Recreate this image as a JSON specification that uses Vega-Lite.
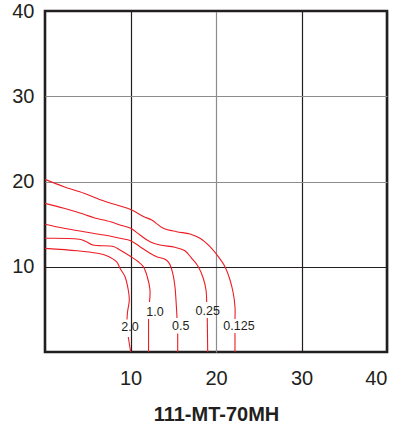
{
  "$schema": "https://vega.github.io/schema/vega-lite/v6.json",
  "width": 342,
  "height": 341,
  "autosize": "none",
  "padding": {"left": 45, "top": 11, "right": 17, "bottom": 79},
  "background": "white",
  "config": {
    "view": {"stroke": "#231f20", "strokeWidth": 2.6},
    "font": "Liberation Sans, Arial, sans-serif"
  },
  "datasets": {
    "lines": [
      {"level": "0.125", "seg": "0.125a", "i": 1, "x": 0, "y": 20.26},
      {"level": "0.125", "seg": "0.125a", "i": 2, "x": 2.22, "y": 19.39},
      {"level": "0.125", "seg": "0.125a", "i": 3, "x": 4.56, "y": 18.62},
      {"level": "0.125", "seg": "0.125a", "i": 4, "x": 6.9, "y": 17.71},
      {"level": "0.125", "seg": "0.125a", "i": 5, "x": 9.94, "y": 16.74},
      {"level": "0.125", "seg": "0.125a", "i": 6, "x": 11.58, "y": 15.87},
      {"level": "0.125", "seg": "0.125a", "i": 7, "x": 12.48, "y": 15.48},
      {"level": "0.125", "seg": "0.125a", "i": 8, "x": 13.84, "y": 14.51},
      {"level": "0.125", "seg": "0.125a", "i": 9, "x": 15.4, "y": 14.11},
      {"level": "0.125", "seg": "0.125a", "i": 10, "x": 16.96, "y": 13.84},
      {"level": "0.125", "seg": "0.125a", "i": 11, "x": 18.13, "y": 13.34},
      {"level": "0.125", "seg": "0.125a", "i": 12, "x": 19.3, "y": 12.35},
      {"level": "0.125", "seg": "0.125a", "i": 13, "x": 20.27, "y": 11.18},
      {"level": "0.125", "seg": "0.125a", "i": 14, "x": 21.05, "y": 10.01},
      {"level": "0.125", "seg": "0.125a", "i": 15, "x": 21.64, "y": 8.45},
      {"level": "0.125", "seg": "0.125a", "i": 16, "x": 22.02, "y": 6.89},
      {"level": "0.125", "seg": "0.125a", "i": 17, "x": 22.22, "y": 5.31},
      {"level": "0.125", "seg": "0.125a", "i": 18, "x": 22.22, "y": 3.87},
      {"level": "0.125", "seg": "0.125b", "i": 19, "x": 22.22, "y": 2.23},
      {"level": "0.125", "seg": "0.125b", "i": 20, "x": 22.22, "y": 0},

      {"level": "0.25", "seg": "0.25a", "i": 1, "x": 0, "y": 17.44},
      {"level": "0.25", "seg": "0.25a", "i": 2, "x": 2.22, "y": 16.86},
      {"level": "0.25", "seg": "0.25a", "i": 3, "x": 4.56, "y": 16.15},
      {"level": "0.25", "seg": "0.25a", "i": 4, "x": 5.73, "y": 15.75},
      {"level": "0.25", "seg": "0.25a", "i": 5, "x": 7.68, "y": 15.28},
      {"level": "0.25", "seg": "0.25a", "i": 6, "x": 8.77, "y": 14.9},
      {"level": "0.25", "seg": "0.25a", "i": 7, "x": 10.02, "y": 14.51},
      {"level": "0.25", "seg": "0.25a", "i": 8, "x": 11.11, "y": 13.72},
      {"level": "0.25", "seg": "0.25a", "i": 9, "x": 12.28, "y": 12.94},
      {"level": "0.25", "seg": "0.25a", "i": 10, "x": 13.45, "y": 12.55},
      {"level": "0.25", "seg": "0.25a", "i": 11, "x": 15.2, "y": 12.28},
      {"level": "0.25", "seg": "0.25a", "i": 12, "x": 16.37, "y": 11.88},
      {"level": "0.25", "seg": "0.25a", "i": 13, "x": 17.16, "y": 10.99},
      {"level": "0.25", "seg": "0.25a", "i": 14, "x": 17.93, "y": 10.01},
      {"level": "0.25", "seg": "0.25a", "i": 15, "x": 18.51, "y": 8.65},
      {"level": "0.25", "seg": "0.25a", "i": 16, "x": 18.83, "y": 7.27},
      {"level": "0.25", "seg": "0.25a", "i": 17, "x": 18.91, "y": 5.87},
      {"level": "0.25", "seg": "0.25b", "i": 18, "x": 18.98, "y": 3.99},
      {"level": "0.25", "seg": "0.25b", "i": 19, "x": 19.03, "y": 0},

      {"level": "0.5", "seg": "0.5a", "i": 1, "x": 0, "y": 14.98},
      {"level": "0.5", "seg": "0.5a", "i": 2, "x": 2.22, "y": 14.51},
      {"level": "0.5", "seg": "0.5a", "i": 3, "x": 4.56, "y": 14.11},
      {"level": "0.5", "seg": "0.5a", "i": 4, "x": 6.9, "y": 13.72},
      {"level": "0.5", "seg": "0.5a", "i": 5, "x": 8.77, "y": 13.34},
      {"level": "0.5", "seg": "0.5a", "i": 6, "x": 10.02, "y": 13.06},
      {"level": "0.5", "seg": "0.5a", "i": 7, "x": 11.11, "y": 12.35},
      {"level": "0.5", "seg": "0.5a", "i": 8, "x": 12.28, "y": 11.58},
      {"level": "0.5", "seg": "0.5a", "i": 9, "x": 13.06, "y": 11.18},
      {"level": "0.5", "seg": "0.5a", "i": 10, "x": 14.04, "y": 10.87},
      {"level": "0.5", "seg": "0.5a", "i": 11, "x": 14.54, "y": 10.4},
      {"level": "0.5", "seg": "0.5a", "i": 12, "x": 14.94, "y": 9.23},
      {"level": "0.5", "seg": "0.5a", "i": 13, "x": 15.2, "y": 7.66},
      {"level": "0.5", "seg": "0.5a", "i": 14, "x": 15.32, "y": 6.1},
      {"level": "0.5", "seg": "0.5a", "i": 15, "x": 15.44, "y": 3.99},
      {"level": "0.5", "seg": "0.5b", "i": 16, "x": 15.52, "y": 2.17},
      {"level": "0.5", "seg": "0.5b", "i": 17, "x": 15.52, "y": 0},

      {"level": "1.0", "seg": "1.0a", "i": 1, "x": 0, "y": 13.34},
      {"level": "1.0", "seg": "1.0a", "i": 2, "x": 4.18, "y": 13.2},
      {"level": "1.0", "seg": "1.0a", "i": 3, "x": 4.91, "y": 12.9},
      {"level": "1.0", "seg": "1.0a", "i": 4, "x": 5.61, "y": 12.55},
      {"level": "1.0", "seg": "1.0a", "i": 5, "x": 8.01, "y": 12.38},
      {"level": "1.0", "seg": "1.0a", "i": 6, "x": 8.77, "y": 11.96},
      {"level": "1.0", "seg": "1.0a", "i": 7, "x": 10.02, "y": 11.2},
      {"level": "1.0", "seg": "1.0a", "i": 8, "x": 10.91, "y": 10.59},
      {"level": "1.0", "seg": "1.0a", "i": 9, "x": 11.5, "y": 10.01},
      {"level": "1.0", "seg": "1.0a", "i": 10, "x": 11.96, "y": 8.83},
      {"level": "1.0", "seg": "1.0a", "i": 11, "x": 12.28, "y": 7.27},
      {"level": "1.0", "seg": "1.0a", "i": 12, "x": 12.22, "y": 5.87},
      {"level": "1.0", "seg": "1.0b", "i": 13, "x": 12.11, "y": 3.87},
      {"level": "1.0", "seg": "1.0b", "i": 14, "x": 12.11, "y": 0},

      {"level": "2.0", "seg": "2.0a", "i": 1, "x": 0, "y": 12.16},
      {"level": "2.0", "seg": "2.0a", "i": 2, "x": 3.78, "y": 11.88},
      {"level": "2.0", "seg": "2.0a", "i": 3, "x": 6.12, "y": 11.58},
      {"level": "2.0", "seg": "2.0a", "i": 4, "x": 7.22, "y": 11.3},
      {"level": "2.0", "seg": "2.0a", "i": 5, "x": 8.39, "y": 10.56},
      {"level": "2.0", "seg": "2.0a", "i": 6, "x": 8.77, "y": 9.82},
      {"level": "2.0", "seg": "2.0a", "i": 7, "x": 9.36, "y": 8.83},
      {"level": "2.0", "seg": "2.0a", "i": 8, "x": 9.74, "y": 7.27},
      {"level": "2.0", "seg": "2.0a", "i": 9, "x": 9.86, "y": 6.1},
      {"level": "2.0", "seg": "2.0a", "i": 10, "x": 9.65, "y": 4.69},
      {"level": "2.0", "seg": "2.0a", "i": 11, "x": 9.59, "y": 3.81},
      {"level": "2.0", "seg": "2.0b", "i": 12, "x": 9.74, "y": 1.76},
      {"level": "2.0", "seg": "2.0b", "i": 13, "x": 10.02, "y": 0}
    ],
    "labels": [
      {"label": "2.0", "x": 9.94, "y": 2.9},
      {"label": "1.0", "x": 12.87, "y": 4.73},
      {"label": "0.5", "x": 15.87, "y": 3.09},
      {"label": "0.25", "x": 19.03, "y": 4.84},
      {"label": "0.125", "x": 22.69, "y": 3.05}
    ]
  },
  "layer": [
    {
      "data": {"name": "lines"},
      "mark": {"type": "line", "color": "#ed1c24", "strokeWidth": 1.1, "interpolate": "catmull-rom", "clip": true},
      "encoding": {
        "x": {
          "field": "x", "type": "quantitative",
          "scale": {"domain": [0, 40], "nice": false, "zero": false},
          "axis": {
            "values": [10, 20, 30, 40],
            "ticks": false, "domain": false,
            "labelFontSize": 20, "labelColor": "#231f20", "labelPadding": 16,
            "labelFont": "Liberation Sans, Arial, sans-serif",
            "grid": true, "gridWidth": 1.2,
            "gridColor": {"condition": {"test": "datum.value === 20", "value": "#8c8c8c"}, "value": "#231f20"},
            "title": "111-MT-70MH",
            "titleFontSize": 20, "titleFontWeight": "bold", "titleColor": "#231f20",
            "titleFont": "Liberation Sans, Arial, sans-serif",
            "titlePadding": 16
          }
        },
        "y": {
          "field": "y", "type": "quantitative",
          "scale": {"domain": [0, 40], "nice": false, "zero": false},
          "axis": {
            "values": [10, 20, 30, 40],
            "ticks": false, "domain": false,
            "labelFontSize": 20, "labelColor": "#231f20", "labelPadding": 11,
            "labelFont": "Liberation Sans, Arial, sans-serif",
            "grid": true, "gridWidth": 1.2,
            "gridColor": {"condition": {"test": "datum.value === 10 || datum.value === 40", "value": "#231f20"}, "value": "#8c8c8c"},
            "title": null
          }
        },
        "detail": {"field": "seg", "type": "nominal"},
        "order": {"field": "i", "type": "quantitative"}
      }
    },
    {
      "data": {"name": "labels"},
      "mark": {"type": "text", "fontSize": 12.5, "color": "#231f20", "font": "Liberation Sans, Arial, sans-serif", "baseline": "middle", "align": "center"},
      "encoding": {
        "x": {"field": "x", "type": "quantitative"},
        "y": {"field": "y", "type": "quantitative"},
        "text": {"field": "label", "type": "nominal"}
      }
    }
  ]
}
